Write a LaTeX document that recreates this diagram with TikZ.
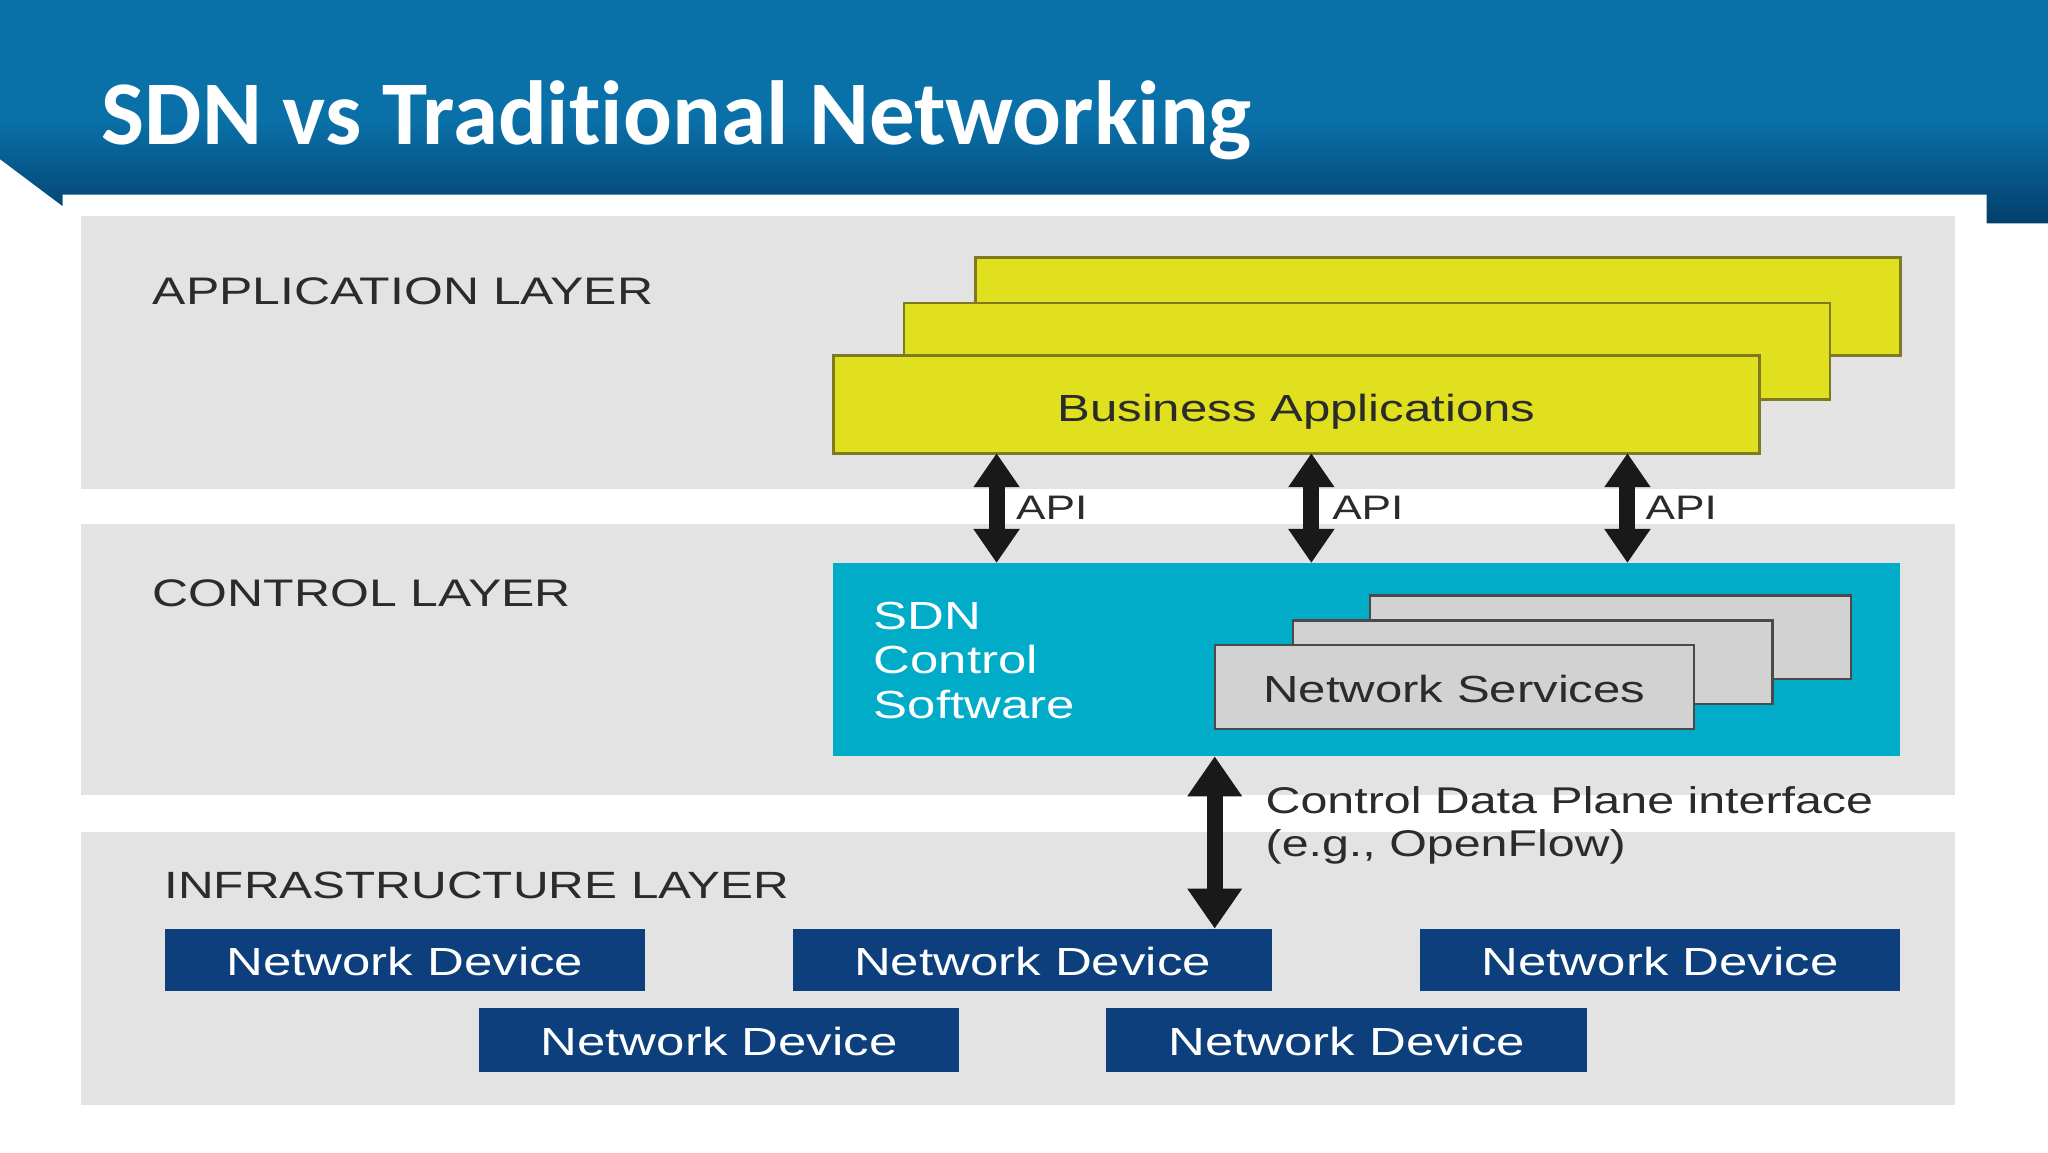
\documentclass[tikz,border=0pt]{standalone}
\usepackage{fontspec}
\usetikzlibrary{arrows.meta}
\setmainfont{Liberation Sans}
\newfontfamily\dgm[FakeStretch=1.3]{Liberation Sans}
\newfontfamily\ttl[Ligatures=NoCommon]{Carlito}
\definecolor{hdA}{HTML}{0A70A8}
\definecolor{hdB}{HTML}{033F6C}
\definecolor{lay}{HTML}{E3E3E3}
\definecolor{yel}{HTML}{E0E01F}
\definecolor{yelD}{HTML}{7F7A22}
\definecolor{tea}{HTML}{00ACC8}
\definecolor{gry}{HTML}{D2D2D2}
\definecolor{gryD}{HTML}{4A4A4A}
\definecolor{nav}{HTML}{0C3F7C}
\definecolor{txt}{HTML}{2B2B2B}
\def\uu{0.65306}
\newcommand{\rbx}[7]{\node[#1,minimum width={(#5-#3)*\uu*1pt},minimum height={(#6-#4)*\uu*1pt}] (#2) at ({(#3+#5)/2},{(#4+#6)/2}) {#7};}
\newcommand{\lowr}[2]{\smash{\raisebox{-#1pt}{#2}}}
\tikzset{
  x=0.65306pt,y=-0.65306pt,
  rct/.style={rectangle,inner sep=0pt,outer sep=0pt},
  layer/.style={rct,fill=lay},
  yb/.style={rct,fill=yel,draw=yelD,line width=1.3pt,text=txt,font=\dgm\fontsize{18.9}{22}\selectfont},
  gb/.style={rct,fill=gry,draw=gryD,line width=1.2pt,text=txt,font=\dgm\fontsize{18.9}{22}\selectfont},
  nd/.style={rct,fill=nav,text=white,font=\dgm\fontsize{19.6}{22}\selectfont},
  lbl/.style={inner sep=0pt,outer sep=0pt,anchor=base west,text=txt,font=\dgm\fontsize{19.2}{22}\selectfont},
  api/.style={lbl,font=\dgm\fontsize{17}{22}\selectfont},
  dbl/.style={{Triangle[width=22pt,length=17pt]}-{Triangle[width=22pt,length=17pt]},line width=8pt,color=black!90},
  dblb/.style={{Triangle[width=26pt,length=20pt]}-{Triangle[width=26pt,length=20pt]},line width=8pt,color=black!90},
}
\begin{document}
\begin{tikzpicture}
\useasboundingbox (0,0) rectangle (1568,882);
\fill[white] (0,0) rectangle (1568,882);
% header band
\fill[hdA] (0,0) rectangle (1568,92);
\shade[top color=hdA,bottom color=hdB] (0,92) rectangle (1568,171);
\fill[white] (0,122) -- (48,158) -- (48,149) -- (1521,149) -- (1521,171) -- (1568,171) -- (1568,172) -- (0,172) -- cycle;
\node[inner sep=0pt,outer sep=0pt,anchor=base west,text=white,font=\ttl\bfseries\fontsize{45.5}{50}\selectfont] (title) at (78,111) {SDN vs Traditional Networking};
% layers
\rbx{layer}{appl}{62}{165}{1497}{374}{}
\rbx{layer}{ctrl}{62}{401}{1497}{609}{}
\rbx{layer}{infr}{62}{637}{1497}{846}{}
\node[lbl] (lapp) at (117,233) {APPLICATION LAYER};
\node[lbl] (lctl) at (117,464) {CONTROL LAYER};
\node[lbl,font=\dgm\fontsize{19}{22}\selectfont] (linf) at (126,688) {INFRASTRUCTURE LAYER};
% business applications
\rbx{yb}{bizc}{747}{197}{1455}{272}{}
\rbx{yb}{bizb}{692}{232}{1401}{306}{}
\rbx{yb}{biz}{638}{272}{1347}{347}{\lowr{8.8}{Business Applications}}
% SDN control
\rbx{rct,fill=tea}{sdn}{638}{431}{1455}{579}{}
\node[inner sep=0pt,outer sep=0pt,anchor=base west,align=left,text=white,font=\dgm\fontsize{19.6}{22.2}\selectfont] (sdnt) at (669,550) {SDN\\Control\\Software};
\rbx{gb}{svc}{1049}{456}{1417}{520}{}
\rbx{gb}{svb}{990}{475}{1357}{539}{}
\rbx{gb}{sva}{930}{494}{1297}{558}{\lowr{7.8}{Network Services}}
% devices
\rbx{nd}{d1}{126}{711}{494}{759}{\lowr{7.8}{Network Device}}
\rbx{nd}{d2}{607}{711}{974}{759}{\lowr{7.8}{Network Device}}
\rbx{nd}{d3}{1087}{711}{1455}{759}{\lowr{7.8}{Network Device}}
\rbx{nd}{d4}{367}{772}{734}{821}{\lowr{7.6}{Network Device}}
\rbx{nd}{d5}{847}{772}{1215}{821}{\lowr{7.6}{Network Device}}
% arrows
\coordinate (xa) at (763,390);
\coordinate (xb) at (1004,390);
\coordinate (xc) at (1246,390);
\coordinate (xd) at (930,640);
\draw[dbl] (biz.south -| xa) -- (sdn.north -| xa);
\draw[dbl] (biz.south -| xb) -- (sdn.north -| xb);
\draw[dbl] (biz.south -| xc) -- (sdn.north -| xc);
\draw[dblb] (sdn.south -| xd) -- (d2.north -| xd);
\node[api] (api1) at (778,398) {API};
\node[api] (api2) at (1020,398) {API};
\node[api] (api3) at (1260,398) {API};
\node[lbl,align=left,font=\dgm\fontsize{18.6}{21.5}\selectfont] (cdpi) at (969,656) {Control Data Plane interface\\(e.g., OpenFlow)};
\end{tikzpicture}
\end{document}
